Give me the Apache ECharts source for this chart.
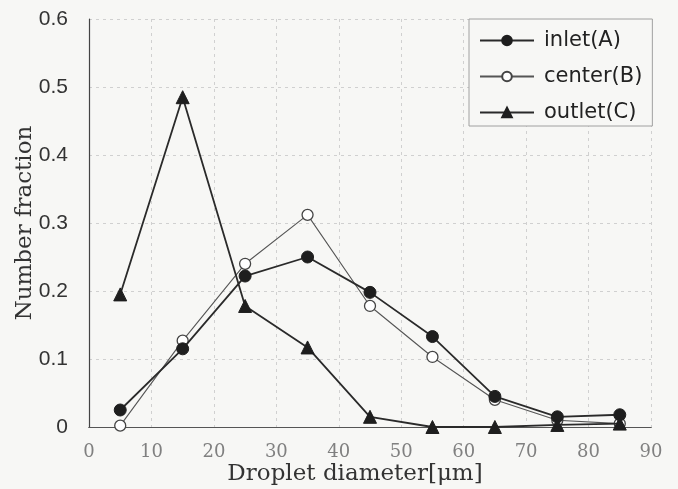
<!DOCTYPE html>
<html>
<head>
<meta charset="utf-8">
<script src="https://cdn.jsdelivr.net/npm/echarts@6/dist/echarts.min.js"></script>
<style>
  html, body { margin: 0; padding: 0; background: #f7f7f5; }
  #chart { width: 678px; height: 489px; }
</style>
</head>
<body>
<div id="chart"></div>
<script>
// droplet diameter classes [um]
const diameters = [5, 15, 25, 35, 45, 55, 65, 75, 85];
const inletA = [0.025, 0.115, 0.222, 0.25, 0.198, 0.133, 0.045, 0.015, 0.018];
const centerB = [0.002, 0.127, 0.24, 0.312, 0.178, 0.103, 0.04, 0.01, 0.005];
const outletC = [0.195, 0.485, 0.178, 0.117, 0.015, 0.0, 0.0, 0.003, 0.005];
const seriesNames = ['inlet(A)', 'center(B)', 'outlet(C)'];

const pairs = (ys) => diameters.map((x, i) => [x, ys[i]]);

const chart = echarts.init(document.getElementById('chart'));

const gridLine = {
  show: true,
  lineStyle: { color: '#d0d0d0', width: 1, type: [3, 4] },
};

const option = {
  backgroundColor: '#f7f7f5',
  animation: false,
  grid: { left: 89, right: 27, top: 19, bottom: 62, outerBoundsMode: 'none' },
  legend: {
    orient: 'vertical',
    left: 469,
    top: 19,
    padding: [11, 10, 3, 10],
    itemGap: 15,
    itemWidth: 54,
    itemHeight: 12,
    backgroundColor: '#f7f7f5',
    borderColor: '#a0a0a0',
    borderWidth: 1,
    data: seriesNames,
    textStyle: {
      fontFamily: 'DejaVu Sans',
      fontSize: 21,
      color: '#222',
      padding: [0, 0, 0, 5],
    },
  },
  xAxis: [
    {
      type: 'value',
      min: 0,
      max: 90,
      interval: 10,
      name: 'Droplet diameter[μm]',
      nameLocation: 'middle',
      nameGap: 36,
      nameMoveOverlap: false,
      nameTextStyle: {
        fontFamily: 'DejaVu Serif',
        fontSize: 23,
        color: '#333',
        padding: [0, 30, 0, 0],
      },
      axisLine: { show: true, onZero: false, lineStyle: { color: '#444', width: 1.2 } },
      axisTick: { show: false },
      axisLabel: { fontFamily: 'DejaVu Serif', fontSize: 18, color: '#808080', margin: 16 },
      splitLine: gridLine,
    },
    {
      type: 'value',
      position: 'top',
      min: 0,
      max: 90,
      interval: 10,
      axisLine: { show: true, lineStyle: { color: '#555', width: 1.2 } },
      axisTick: { show: false },
      axisLabel: { show: false },
      splitLine: { show: false },
    },
  ],
  yAxis: {
    type: 'value',
    min: 0,
    max: 0.6,
    interval: 0.1,
    name: 'Number fraction',
    nameLocation: 'middle',
    nameGap: 52,
    nameMoveOverlap: false,
    nameTextStyle: { fontFamily: 'DejaVu Serif', fontSize: 23, color: '#333' },
    axisLine: { show: true, lineStyle: { color: '#444', width: 1.2 } },
    axisTick: { show: false },
    axisLabel: {
      fontFamily: 'Liberation Sans',
      fontSize: 21,
      color: '#333',
      margin: 21,
      formatter: (v) => (v === 0 ? '0' : v.toFixed(1)),
    },
    splitLine: gridLine,
  },
  series: [
    {
      name: seriesNames[0],
      type: 'line',
      data: pairs(inletA),
      symbol: 'circle',
      symbolSize: 12,
      itemStyle: { color: '#1e1e1e', borderColor: '#1e1e1e', borderWidth: 1 },
      lineStyle: { color: '#2a2a2a', width: 1.8 },
      z: 3,
    },
    {
      name: seriesNames[1],
      type: 'line',
      data: pairs(centerB),
      symbol: 'circle',
      symbolSize: 11,
      itemStyle: { color: '#ffffff', borderColor: '#444', borderWidth: 1.3 },
      lineStyle: { color: '#555', width: 1.1 },
      z: 2,
    },
    {
      name: seriesNames[2],
      type: 'line',
      data: pairs(outletC),
      symbol: 'triangle',
      symbolSize: 13,
      itemStyle: { color: '#1e1e1e', borderColor: '#1e1e1e', borderWidth: 1 },
      lineStyle: { color: '#2a2a2a', width: 1.8 },
      z: 4,
    },
  ],
};

chart.setOption(option);
</script>
</body>
</html>
